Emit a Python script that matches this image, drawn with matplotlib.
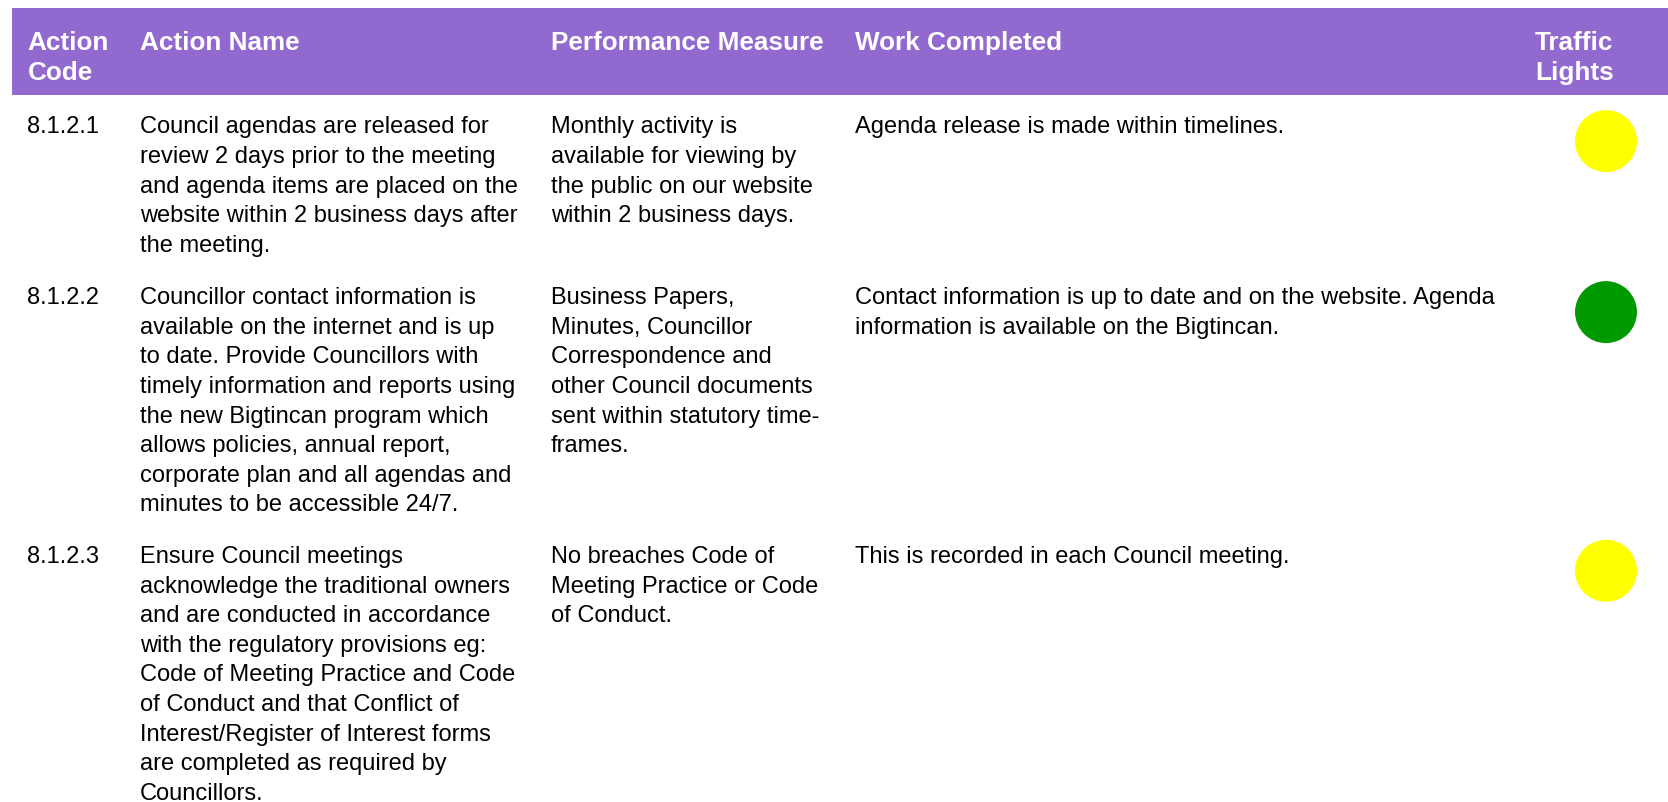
import matplotlib
matplotlib.use("Agg")
import matplotlib.pyplot as plt
from matplotlib.patches import Rectangle, Circle

# ── table content ─────────────────────────────────────────────────────────────
headers = [["Action", "Code"], ["Action Name"], ["Performance Measure"],
           ["Work Completed"], ["Traffic", "Lights"]]

codes = ["8.1.2.1", "8.1.2.2", "8.1.2.3"]

action_names = [
    ["Council agendas are released for",
     "review 2 days prior to the meeting",
     "and agenda items are placed on the",
     "website within 2 business days after",
     "the meeting."],
    ["Councillor contact information is",
     "available on the internet and is up",
     "to date. Provide Councillors with",
     "timely information and reports using",
     "the new Bigtincan program which",
     "allows policies, annual report,",
     "corporate plan and all agendas and",
     "minutes to be accessible 24/7."],
    ["Ensure Council meetings",
     "acknowledge the traditional owners",
     "and are conducted in accordance",
     "with the regulatory provisions eg:",
     "Code of Meeting Practice and Code",
     "of Conduct and that Conflict of",
     "Interest/Register of Interest forms",
     "are completed as required by",
     "Councillors."],
]

measures = [
    ["Monthly activity is",
     "available for viewing by",
     "the public on our website",
     "within 2 business days."],
    ["Business Papers,",
     "Minutes, Councillor",
     "Correspondence and",
     "other Council documents",
     "sent within statutory time-",
     "frames."],
    ["No breaches Code of",
     "Meeting Practice or Code",
     "of Conduct."],
]

work_done = [
    ["Agenda release is made within timelines."],
    ["Contact information is up to date and on the website. Agenda",
     "information is available on the Bigtincan."],
    ["This is recorded in each Council meeting."],
]

lights = ["#FFFF00", "#009900", "#FFFF00"]

# ── layout (pixels, baselines) ────────────────────────────────────────────────
W, H = 1668, 803
col_x = [27.5, 140, 551, 855, 1535]
row_base = [133.3, 304.3, 563]
line_h = 29.6
fs = 17.0
fs_head = 18.8
light_x, light_r = 1606, 31
purple = "#9269CF"

plt.rcParams["font.family"] = ["Liberation Sans", "DejaVu Sans"]

fig = plt.figure(figsize=(W / 100, H / 100), dpi=100)
ax = fig.add_axes([0, 0, 1, 1])
ax.set_xlim(0, W)
ax.set_ylim(H, 0)
ax.axis("off")

# header band
ax.add_patch(Rectangle((12, 9), W - 12, 87, color=purple, lw=0))
for x, lines in zip(col_x, headers):
    for i, s in enumerate(lines):
        ax.text(x, 50 + i * 30, s, color="white", fontsize=fs_head, fontweight="bold",
                ha="left", va="baseline")

# rows
for r in range(len(codes)):
    y0 = row_base[r]
    cells = [[codes[r]], action_names[r], measures[r], work_done[r]]
    for x, lines in zip(col_x, cells):
        for i, s in enumerate(lines):
            ax.text(x, y0 + i * line_h, s, color="black", fontsize=fs,
                    ha="left", va="baseline")
    ax.add_patch(Circle((light_x, y0 + 8.8), light_r, color=lights[r], lw=0))

fig.savefig("out.png", dpi=100)
